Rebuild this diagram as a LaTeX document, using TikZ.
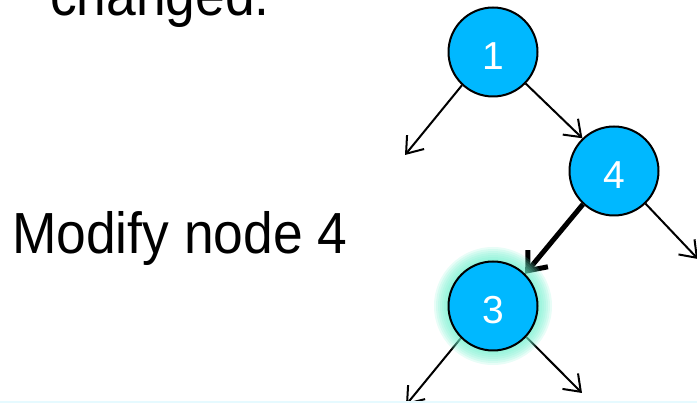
\documentclass[tikz,border=0pt]{standalone}
\usepackage{fontspec}
\setmainfont{Liberation Sans}
\usetikzlibrary{arrows.meta}
\pgfdeclarelayer{background}
\pgfsetlayers{background,main}
\definecolor{nodeblue}{RGB}{0,184,255}
\definecolor{glowc}{RGB}{110,240,205}
\definecolor{stripc}{RGB}{230,250,255}
\tikzset{
  treenode/.style={circle, draw=black, line width=2pt, fill=nodeblue, minimum size=89pt, inner sep=0pt, text=white, text height=35pt, text depth=0pt, font=\fontsize{39}{39}\selectfont},
  conn/.style={line width=2pt, -{Straight Barb[length=15pt,width=22pt]}},
  thickconn/.style={line width=5pt, -{Straight Barb[length=16pt,width=26pt]}},
  bigtext/.style={anchor=base west, inner sep=0pt, font=\fontsize{58}{58}\selectfont, xscale=0.92, transform shape}
}
\begin{document}
\begin{tikzpicture}[x=1pt,y=-1pt]
\useasboundingbox (0,0) rectangle (697,403);
\fill[stripc] (0,401) rectangle (697,403);
\node[bigtext] (t1) at (50,16) {changed.};
\node[bigtext] (t2) at (12,254) {Modify node 4};
\node[treenode] (n1) at (493,52) {1};
\node[treenode] (n4) at (614,171) {4};
\node[treenode] (n3) at (493,306) {3};
\coordinate (c1l) at (405,155);
\coordinate (c4r) at (698,259);
\coordinate (c3l) at (406,405);
\coordinate (c3r) at (582,393);
\begin{pgfonlayer}{background}
\draw[conn] (n1.227) -- (c1l);
\draw[conn] (n1.-44) -- (n4.134);
\draw[thickconn] (n4.227) -- (n3.45);
\draw[conn] (n4.-46) -- (c4r);
\draw[conn] (n3.225) -- (c3l);
\draw[conn] (n3.-43) -- (c3r);
\foreach \r in {59,57,55,53,51,49,47} {
  \fill[glowc, opacity=0.16] (n3.center) circle (\r pt);
}
\end{pgfonlayer}
\end{tikzpicture}
\end{document}
